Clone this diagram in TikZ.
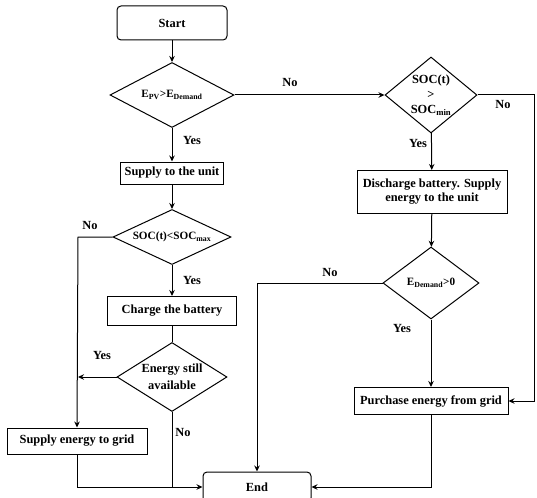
\documentclass[tikz,border=0pt]{standalone}
\usepackage{fontspec}
\setmainfont{Liberation Serif}
\usetikzlibrary{shapes.geometric,arrows.meta}
\begin{document}
\begin{tikzpicture}[x=1pt,y=-1pt,
  every node/.style={font=\fontsize{12.4}{14}\selectfont\bfseries},
  procbox/.style={draw,line width=1pt,inner sep=0pt,align=center},
  termbox/.style={draw,line width=1pt,rounded corners=4pt,inner sep=0pt},
  decbox/.style={draw,diamond,line width=1pt,inner xsep=-8pt,inner ysep=-4pt,align=center},
  smallfont/.style={font=\fontsize{11.2}{14}\selectfont\bfseries},
  lbl/.style={inner sep=0pt},
  flow/.style={line width=1pt,-{Stealth[length=6pt,width=5.5pt]}},
  plain/.style={line width=1pt}]
\useasboundingbox (0,0) rectangle (537,497);
% nodes
\node[termbox,minimum width=110pt,minimum height=34pt] (start) at (172,23) {Start};
\node[decbox,smallfont,shape aspect=1.9,minimum width=124pt,minimum height=65pt] (d1) at (172,95) {E\textsubscript{PV}>E\textsubscript{Demand}};
\node[procbox,minimum width=103pt,minimum height=22pt] (supply) at (172,173) {Supply to the unit};
\node[decbox,smallfont,shape aspect=2.15,minimum width=118pt,minimum height=55pt] (d2) at (172,237) {SOC(t)<SOC\textsubscript{max}};
\node[procbox,minimum width=129pt,minimum height=29pt] (charge) at (172,311) {Charge the battery};
\node[decbox,shape aspect=1.6,minimum width=110pt,minimum height=69pt,font=\fontsize{12.4}{17}\selectfont\bfseries] (d3) at (172,377) {Energy still\\available};
\node[procbox,minimum width=140pt,minimum height=26pt] (grid) at (77,441) {Supply energy to grid};
\node[termbox,minimum width=108pt,minimum height=30pt] (end) at (257,487) {End};
\node[decbox,shape aspect=1.21,minimum width=92pt,minimum height=76pt,font=\fontsize{12.4}{15}\selectfont\bfseries] (d4) at (431,95) {SOC(t)\\>\\SOC\textsubscript{min}};
\node[procbox,minimum width=150pt,minimum height=43pt] (dis) at (432,192) {Discharge battery. Supply\\energy to the unit};
\node[decbox,smallfont,shape aspect=1.33,minimum width=96pt,minimum height=72pt] (d5) at (431,283) {E\textsubscript{Demand}>0};
\node[procbox,minimum width=154pt,minimum height=27pt] (buy) at (431,401) {Purchase energy from grid};
% labels
\node[lbl] (y1) at (192,141) {Yes};
\node[lbl] (n1) at (290,83) {No};
\node[lbl] (n2) at (90,225) {No};
\node[lbl] (y2) at (192,280) {Yes};
\node[lbl] (y3) at (102,355) {Yes};
\node[lbl] (n3) at (183,432) {No};
\node[lbl] (n4) at (503,105) {No};
\node[lbl] (y4) at (418,144) {Yes};
\node[lbl] (n5) at (330,272) {No};
\node[lbl] (y5) at (402,328) {Yes};
% coordinates
\coordinate (c2) at (78,237);
\coordinate (c3) at (78,377);
\coordinate (c4) at (534,95);
\coordinate (c5) at (257,283);
\coordinate (cg) at (77,487);
\coordinate (cd3) at (172,487);
\coordinate (cb) at (431,487);
% connectors
\draw[flow] (start) -- (d1);
\draw[flow] (d1) -- (supply);
\draw[flow] (supply) -- (d2);
\draw[flow] (d2) -- (charge);
\draw[plain] (charge) -- (d3);
\draw[flow] (d2.west) -- (c2) -- (grid.north);
\draw[flow] (d3.west) -- (c3);
\draw[plain] (grid.south) -- (cg) -- (cd3);
\draw[flow] (d3.south) -- (cd3) -- (end.west);
\draw[flow] (d1.east) -- (d4.west);
\draw[flow] (d4.east) -- (c4) |- (buy.east);
\draw[flow] (d4) -- (dis);
\draw[flow] (dis) -- (d5);
\draw[flow] (d5.west) -- (c5) -- (end.north west -| c5);
\draw[flow] (d5) -- (buy);
\draw[flow] (buy.south) -- (cb) -- (end.east);
\end{tikzpicture}
\end{document}
